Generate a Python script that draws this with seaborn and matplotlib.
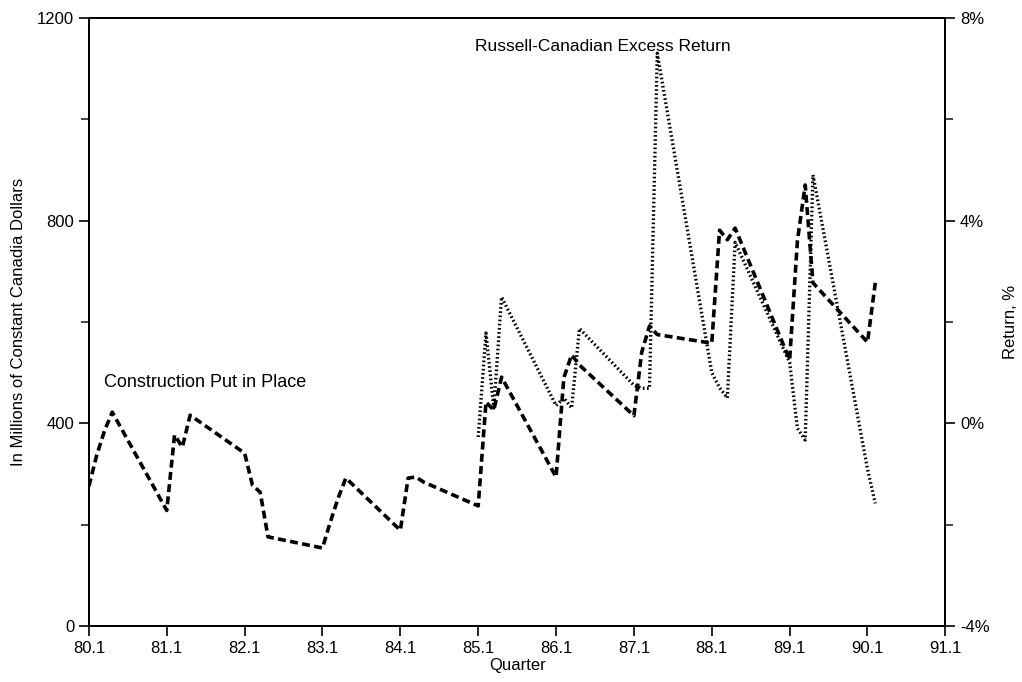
import matplotlib
matplotlib.use("Agg")
import matplotlib.pyplot as plt
import seaborn as sns
import pandas as pd

# quarters are written as YY.Q and plotted at that numeric value
construction_quarters = ["80.1", "80.2", "80.3", "80.4", "81.1", "81.2", "81.3", "81.4",
                         "82.1", "82.2", "82.3", "82.4", "83.1", "83.2", "83.3", "83.4",
                         "84.1", "84.2", "84.3", "84.4", "85.1", "85.2", "85.3", "85.4",
                         "86.1", "86.2", "86.3", "86.4", "87.1", "87.2", "87.3", "87.4",
                         "88.1", "88.2", "88.3", "88.4", "89.1", "89.2", "89.3", "89.4",
                         "90.1", "90.2"]
construction = [276, 337, 385, 422, 228, 377, 353, 416,
                341, 278, 264, 176, 154, 205, 252, 292,
                189, 292, 294, 284, 237, 442, 426, 491,
                294, 490, 535, 515, 415, 540, 592, 575,
                558, 781, 762, 785, 525, 760, 870, 677,
                560, 677]

return_quarters = ["85.1", "85.2", "85.3", "85.4", "86.1", "86.2", "86.3", "86.4",
                   "87.1", "87.2", "87.3", "87.4", "88.1", "88.2", "88.3", "88.4",
                   "89.1", "89.2", "89.3", "89.4", "90.1", "90.2"]
excess_return = [-0.27, 1.78, 0.30, 2.49, 0.35, 0.50, 0.30, 1.87,
                 0.75, 0.69, 0.69, 7.30, 1.00, 0.70, 0.50, 3.57,
                 1.20, -0.10, -0.33, 4.90, -0.90, -1.58]

x_ticks = ["80.1", "81.1", "82.1", "83.1", "84.1", "85.1", "86.1",
           "87.1", "88.1", "89.1", "90.1", "91.1"]
left_ticks = [0, 400, 800, 1200]
right_ticks = [-4, 0, 4, 8]

df_c = pd.DataFrame({"quarter": [float(q) for q in construction_quarters], "value": construction})
df_r = pd.DataFrame({"quarter": [float(q) for q in return_quarters], "value": excess_return})

sns.set_style("ticks")
plt.rcParams["font.family"] = ["Liberation Sans", "DejaVu Sans"]
plt.rcParams["text.color"] = "black"
plt.rcParams["axes.labelcolor"] = "black"

fig = plt.figure(figsize=(10.22, 6.82), dpi=100)
ax = fig.add_axes([0.087, 0.082, 0.838, 0.892])
ax2 = ax.twinx()

sns.lineplot(data=df_c, x="quarter", y="value", ax=ax, color="black", linewidth=2.6)
sns.lineplot(data=df_r, x="quarter", y="value", ax=ax2, color="black", linewidth=2.4)
ax.lines[0].set_linestyle((0, (2.2, 1.2)))
ax2.lines[0].set_linestyle((0, (0.5, 0.75)))

ax.set_xlim(80.1, 91.1)
ax.set_ylim(0, 1200)
ax2.set_ylim(-4, 8)

ax.set_xticks([float(t) for t in x_ticks])
ax.set_xticklabels(x_ticks)
ax.set_yticks(left_ticks)
ax.set_yticks(range(0, 1201, 200), minor=True)
ax2.set_yticks(right_ticks)
ax2.set_yticklabels([f"{t}%" for t in right_ticks])
ax2.set_yticks(range(-4, 9, 2), minor=True)

for a in (ax, ax2):
    a.tick_params(axis="both", which="major", direction="out", length=7, width=1.2,
                  labelsize=12, colors="black")
    a.tick_params(axis="y", which="minor", direction="out", length=6, width=1.2)
    for s in a.spines.values():
        s.set_visible(True)
        s.set_linewidth(1.3)
        s.set_color("black")

ax.set_xlabel("Quarter", fontsize=12, labelpad=2)
ax.set_ylabel("In Millions of Constant Canadia Dollars", fontsize=12, labelpad=8)
ax2.set_ylabel("Return, %", fontsize=12, labelpad=10)

ax.text(80.3, 480, "Construction Put in Place", fontsize=13, va="center", ha="left")
ax.text(85.06, 1143, "Russell-Canadian Excess Return", fontsize=12.5, va="center", ha="left")

fig.savefig("out.png", dpi=100)
